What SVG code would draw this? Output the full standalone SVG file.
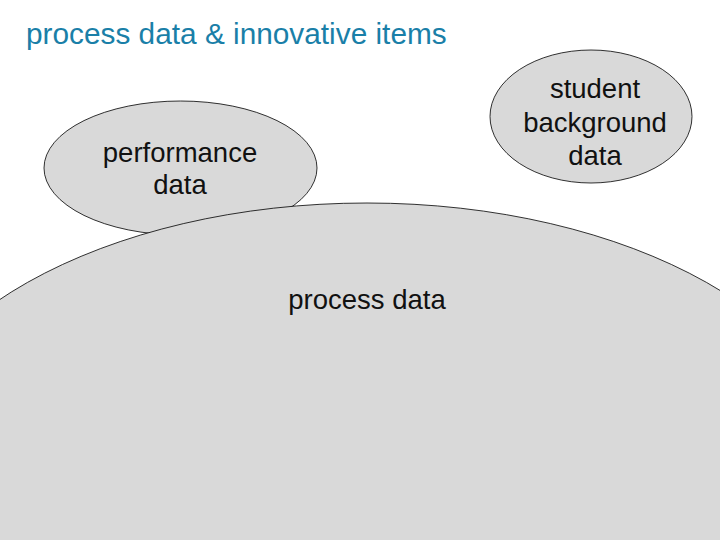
<svg xmlns="http://www.w3.org/2000/svg" width="720" height="540" viewBox="0 0 720 540">
<style>
.node{fill:#d9d9d9;stroke:#000;stroke-width:0.8}
.lbl{font-family:"Liberation Sans",Arial,sans-serif;font-size:27.5px;fill:#111;text-anchor:middle}
.title{font-family:"Liberation Sans",Arial,sans-serif;font-size:29.8px;fill:#1a7fa8}
</style>
<rect width="720" height="540" fill="#fff"/>
<text class="title" x="26" y="44">process data &amp; innovative items</text>
<g id="node-performance">
<ellipse class="node" cx="180.5" cy="168" rx="136.5" ry="67"/>
<text class="lbl" x="180" y="162">performance</text>
<text class="lbl" x="180" y="194">data</text>
</g>
<g id="node-student">
<ellipse class="node" cx="591" cy="116.5" rx="101" ry="66.5"/>
<text class="lbl" x="595" y="98">student</text>
<text class="lbl" x="595" y="132">background</text>
<text class="lbl" x="595" y="165">data</text>
</g>
<g id="node-process">
<ellipse class="node" cx="367" cy="474" rx="480" ry="271"/>
<text class="lbl" x="367" y="309">process data</text>
</g>
<g id="connectors"></g>
</svg>
